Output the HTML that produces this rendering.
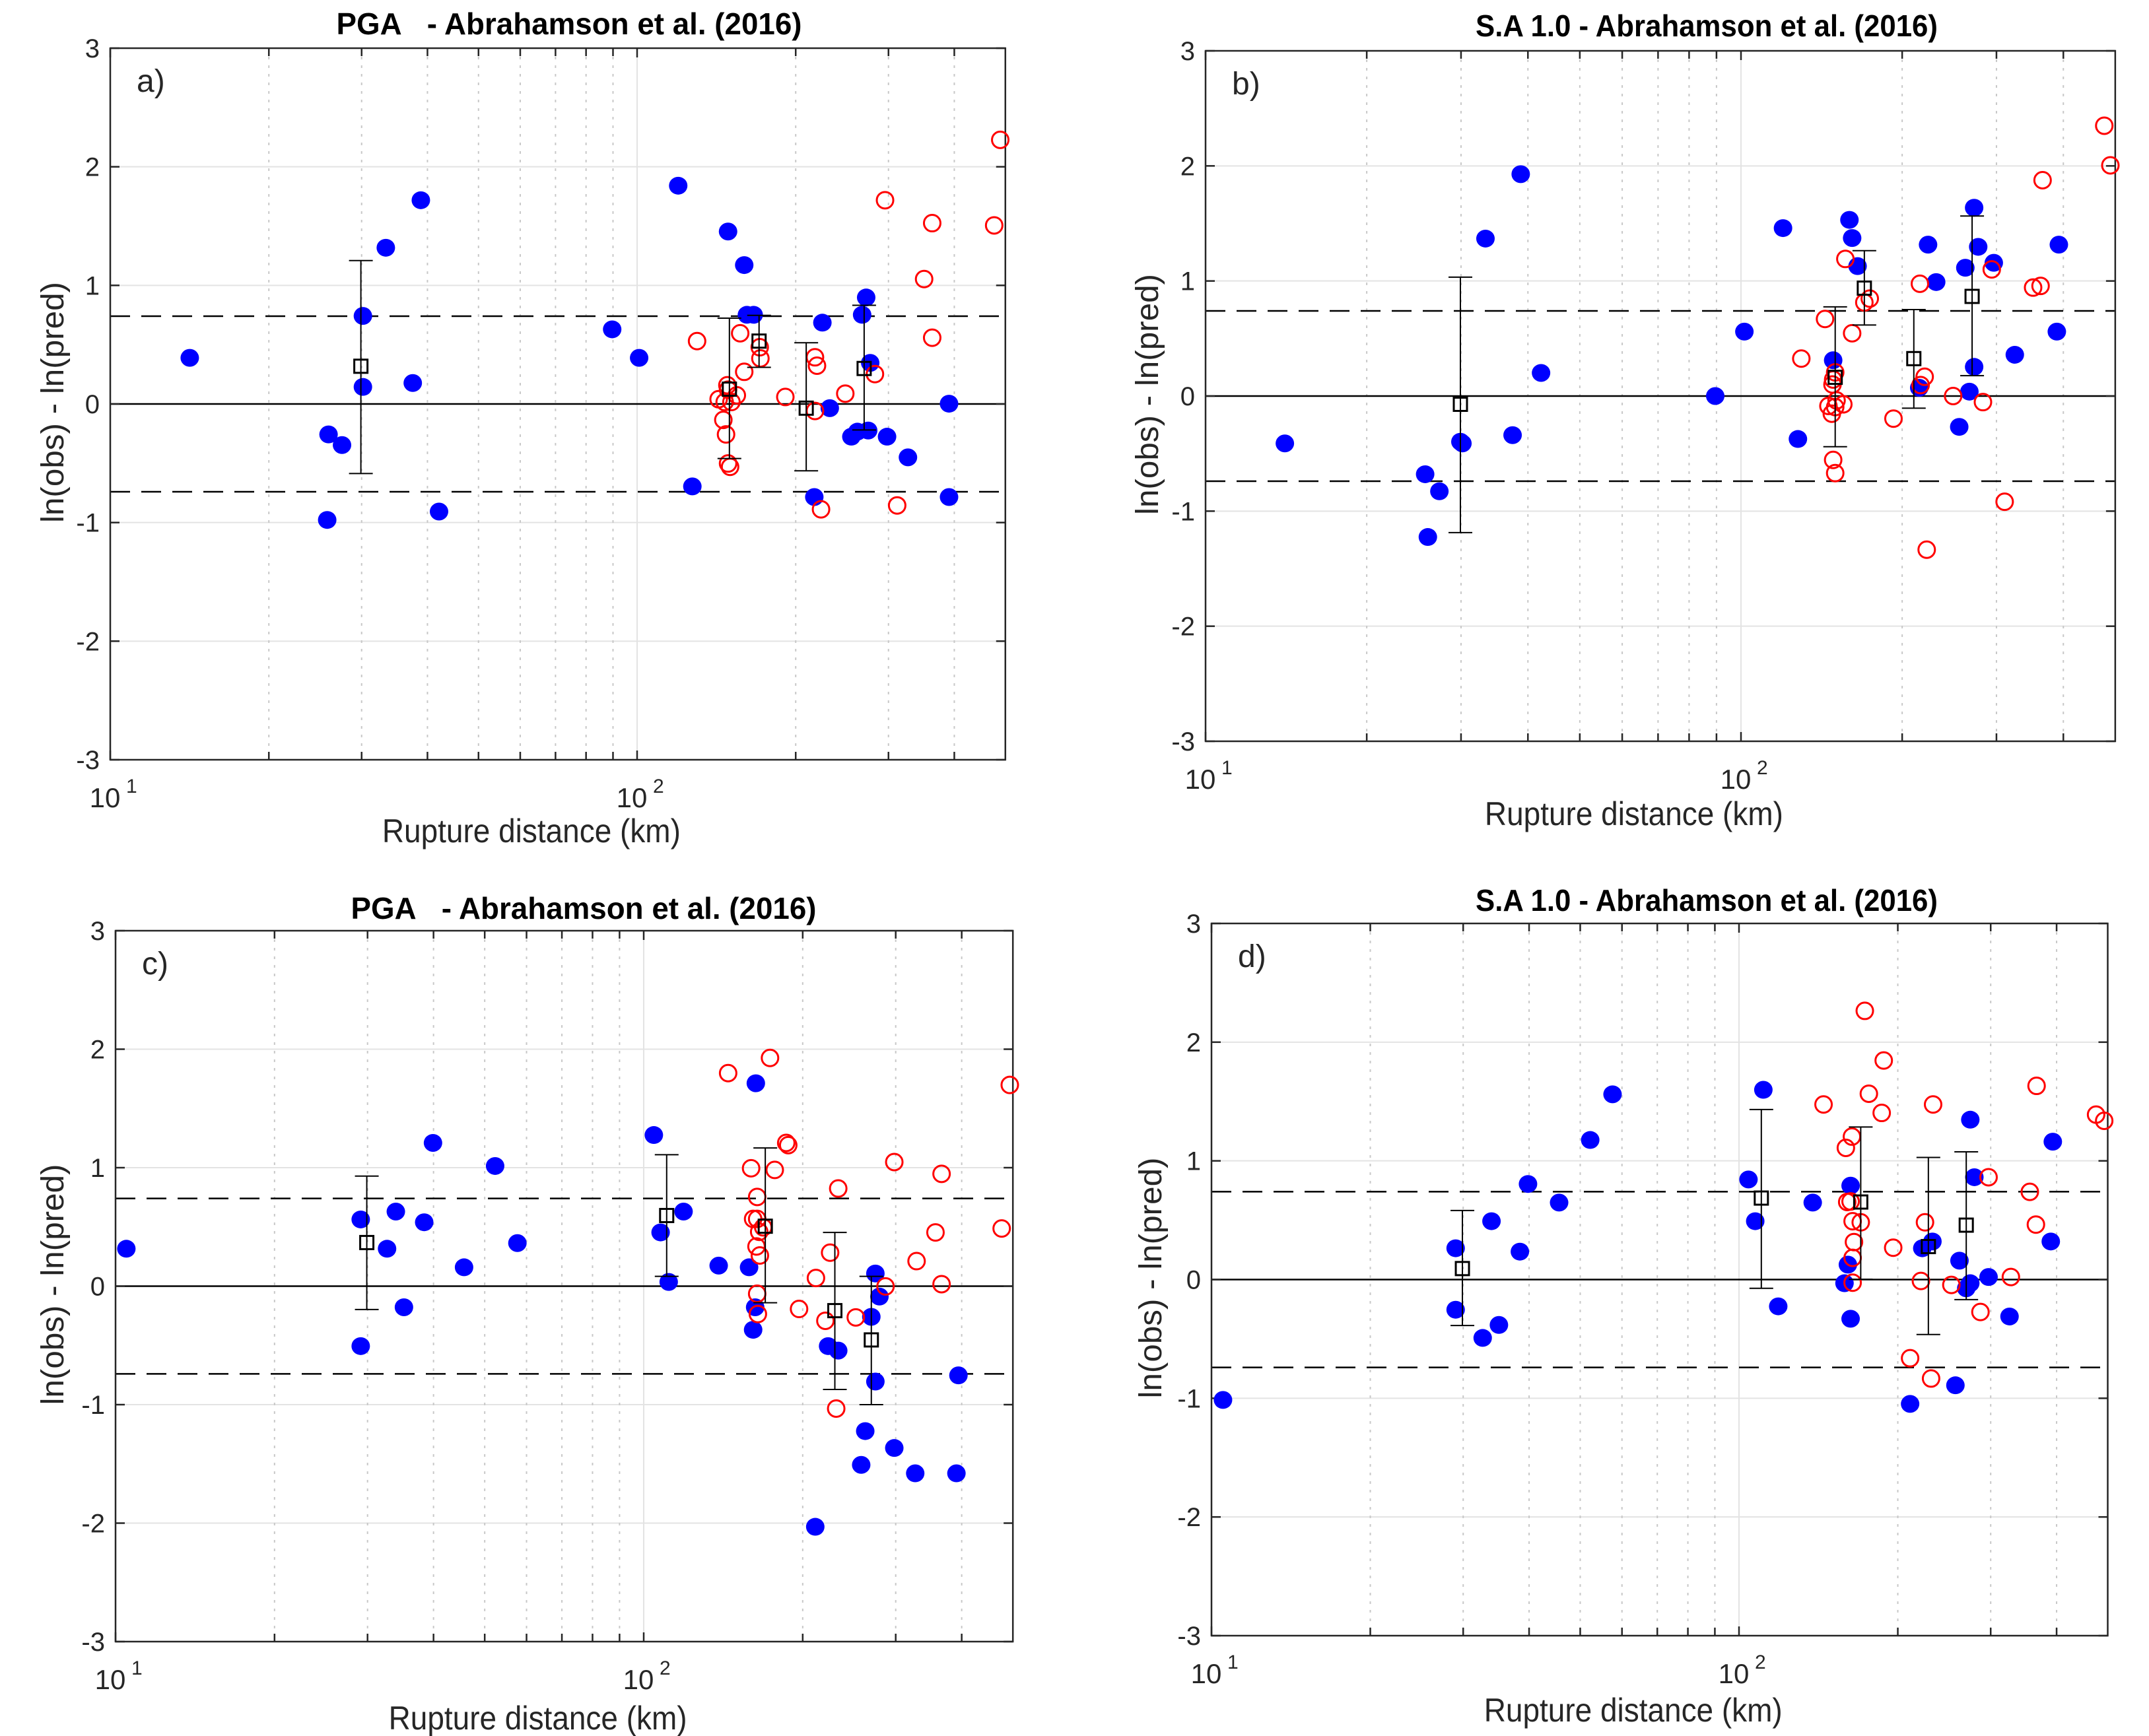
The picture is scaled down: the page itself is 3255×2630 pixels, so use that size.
<!DOCTYPE html>
<html><head><meta charset="utf-8">
<style>
html,body{margin:0;padding:0;background:#fff;}
svg{display:block;}
text{font-family:"Liberation Sans Narrow","Liberation Sans",sans-serif;fill:#262626;}
.t{font-weight:bold;fill:#000;}
</style></head>
<body>
<svg id="s" width="3255" height="2630" viewBox="0 0 3255 2630" xmlns="http://www.w3.org/2000/svg"></svg>
<script>
var S=document.getElementById('s');
var NS='http://www.w3.org/2000/svg';
function el(n,a,txt){var e=document.createElementNS(NS,n);for(var k in a)e.setAttribute(k,a[k]);if(txt!==undefined)e.textContent=txt;S.appendChild(e);return e;}
var panels=[
{L:167,D:798,T:73,B:1151,z:{L:163,D:782,y3:87,ym:1360},title:"PGA\u00a0\u00a0\u00a0- Abrahamson et al. (2016)",tx:862,ty:52,lab:"a)",ylx:80,xly:1276,
blue:[[281,641],[487,778],[507,797],[485,931],[538,566],[538,693],[572,444],[612,686],[624,359],[651,916],[908,590],[948,641],[1006,333],[1027,871],[1080,415],[1104,475],[1108,564],[1118,564],[1220,578],[1208,890],[1231,731],[1263,782],[1272,773],[1285,533],[1279,564],[1291,650],[1288,771],[1316,782],[1347,819],[1408,723],[1408,890]],
red:[[1034,611],[1098,597],[1079,690],[1080,698],[1066,715],[1075,720],[1085,720],[1093,708],[1073,752],[1077,778],[1080,830],[1083,836],[1104,666],[1127,622],[1128,642],[1165,711],[1209,640],[1212,655],[1209,736],[1218,912],[1254,705],[1298,670],[1313,359],[1331,905],[1371,500],[1383,400],[1383,605],[1475,404],[1484,251]],
sq:[[535,656,467,848],[1082,697,570,821],[1126,611,565,658],[1196,731,614,843],[1282,660,547,770]]},
{L:1826,D:811,T:77,B:1123,z:{L:171,D:790,y3:93,ym:1347},title:"S.A 1.0 - Abrahamson et al. (2016)",tx:2585,ty:55,lab:"b)",ylx:1738,xly:1250,
blue:[[288,806],[495,862],[516,893],[499,976],[547,803],[550,806],[584,434],[624,791],[636,317],[666,678],[923,720],[966,603],[1023,415],[1045,798],[1097,655],[1121,400],[1125,433],[1133,484],[1224,705],[1237,445],[1249,513],[1283,776],[1292,487],[1298,712],[1305,378],[1305,667],[1311,449],[1334,478],[1365,645],[1427,603],[1430,445]],
red:[[1050,652],[1085,580],[1100,677],[1097,690],[1096,699],[1102,728],[1090,738],[1095,752],[1100,740],[1112,735],[1097,836],[1100,860],[1115,471],[1125,606],[1143,550],[1151,543],[1186,761],[1225,516],[1226,700],[1232,685],[1235,999],[1274,720],[1318,731],[1331,490],[1350,912],[1392,523],[1403,520],[1406,328],[1497,229],[1506,301]],
sq:[[547,735,504,968],[1100,686,558,812],[1143,524,456,591],[1216,652,563,742],[1302,539,393,683]]},
{L:175,D:800,T:1410,B:2487,z:{L:171,D:782,y3:125,ym:1388},title:"PGA\u00a0\u00a0\u00a0- Abrahamson et al. (2016)",tx:884,ty:1392,lab:"c)",ylx:80,xly:2620,
blue:[[187,690],[534,638],[534,863],[573,690],[586,624],[598,794],[628,643],[641,502],[687,723],[733,543],[766,680],[968,488],[978,661],[990,749],[1012,624],[1064,720],[1109,723],[1115,834],[1118,794],[1119,396],[1207,1184],[1226,863],[1241,871],[1275,1074],[1281,1014],[1290,811],[1296,734],[1302,775],[1296,926],[1324,1044],[1355,1089],[1416,1089],[1419,915]],
red:[[1078,378],[1140,351],[1112,547],[1147,550],[1121,598],[1115,637],[1121,637],[1124,660],[1120,686],[1125,702],[1130,652],[1121,770],[1122,806],[1164,502],[1167,506],[1183,797],[1208,742],[1222,818],[1229,697],[1241,583],[1238,974],[1267,812],[1311,757],[1324,536],[1357,712],[1385,661],[1394,557],[1394,753],[1483,654],[1495,399]],
sq:[[543,679,561,798],[987,631,523,739],[1133,650,511,786],[1236,800,661,940],[1290,852,739,967]]},
{L:1835,D:799,T:1399,B:2478,z:{L:180,D:780,y3:113,ym:1376},title:"S.A 1.0 - Abrahamson et al. (2016)",tx:2585,ty:1380,lab:"d)",ylx:1743,xly:2608,
blue:[[197,958],[541,689],[541,798],[594,641],[581,848],[605,825],[636,695],[648,575],[694,608],[740,497],[773,416],[974,567],[984,641],[996,408],[1018,792],[1069,608],[1116,751],[1121,718],[1125,578],[1125,814],[1213,965],[1231,689],[1246,677],[1280,932],[1286,711],[1296,760],[1302,751],[1302,461],[1308,563],[1329,740],[1360,810],[1421,677],[1424,500]],
red:[[1085,434],[1118,511],[1127,491],[1146,268],[1152,415],[1171,449],[1174,356],[1120,607],[1125,606],[1128,641],[1130,678],[1128,706],[1128,750],[1140,643],[1188,688],[1213,884],[1229,747],[1235,643],[1244,920],[1247,434],[1274,754],[1317,802],[1329,563],[1362,740],[1390,589],[1399,647],[1400,401],[1488,452],[1500,463]],
sq:[[551,725,622,826],[993,600,443,760],[1140,607,474,744],[1240,686,528,842],[1296,648,518,780]]}
];
panels.forEach(function(p){
  var R=p.L+Math.log10(50)*p.D, H=p.B-p.T;
  function X(lx){return p.L+(lx-1)*p.D;}
  function Y(v){return p.T+(3-v)/6*H;}
  function zx(z){return X(1+(z-p.z.L)/p.z.D);}
  function zy(z){return Y(3-(z-p.z.y3)/(p.z.ym-p.z.y3)*6);}
  for(var v=-2;v<=2;v++){el('line',{x1:p.L,x2:R,y1:Y(v),y2:Y(v),stroke:'#e3e3e3','stroke-width':2});}
  el('line',{x1:X(2),x2:X(2),y1:p.T,y2:p.B,stroke:'#e3e3e3','stroke-width':2});
  [20,30,40,50,60,70,80,90,200,300,400].forEach(function(m){var x=X(Math.log10(m));
    el('line',{x1:x,x2:x,y1:p.T,y2:p.B,stroke:'#c8c8c8','stroke-width':2,'stroke-dasharray':'4,9'});});
  el('line',{x1:p.L,x2:R,y1:Y(0),y2:Y(0),stroke:'#000','stroke-width':2.5});
  [0.74,-0.74].forEach(function(v){el('line',{x1:p.L,x2:R,y1:Y(v),y2:Y(v),stroke:'#000','stroke-width':2.5,'stroke-dasharray':'30,17'});});
  el('rect',{x:p.L,y:p.T,width:R-p.L,height:H,fill:'none',stroke:'#262626','stroke-width':2.5});
  for(var v=-3;v<=3;v++){var y=Y(v);
    el('line',{x1:p.L,x2:p.L+14,y1:y,y2:y,stroke:'#262626','stroke-width':2.5});
    el('line',{x1:R-14,x2:R,y1:y,y2:y,stroke:'#262626','stroke-width':2.5});
    el('text',{x:p.L-16,y:y+14,'font-size':40,'text-anchor':'end'},String(v));}
  [10,20,30,40,50,60,70,80,90,100,200,300,400].forEach(function(m){var x=X(Math.log10(m));var l=(m==10||m==100)?14:12;
    el('line',{x1:x,x2:x,y1:p.B-l,y2:p.B,stroke:'#262626','stroke-width':2.5});
    el('line',{x1:x,x2:x,y1:p.T,y2:p.T+l,stroke:'#262626','stroke-width':2.5});});
  [[1,'1'],[2,'2']].forEach(function(a){var x=X(a[0]);
    el('text',{x:x-8,y:p.B+72,'font-size':42,'text-anchor':'middle'},'10');
    el('text',{x:x+24,y:p.B+50,'font-size':30,'text-anchor':'start'},a[1]);});
  var tw=(p.lab=='a)'||p.lab=='c)')?705:700;
  el('text',{x:p.tx-tw/2,y:p.ty,'font-size':46,'class':'t',textLength:tw,lengthAdjust:'spacingAndGlyphs'},p.title);
  el('text',{x:(p.L+R)/2-266,y:p.xly,'font-size':50,textLength:452,lengthAdjust:'spacingAndGlyphs'},'Rupture distance (km)');
  var yc=(p.T+p.B)/2;
  el('text',{x:p.ylx-180,y:yc,'font-size':48,transform:'rotate(-90 '+p.ylx+' '+yc+')',dy:'16',textLength:365,lengthAdjust:'spacingAndGlyphs'},'ln(obs) - ln(pred)');
  el('text',{x:p.L+40,y:p.T+66,'font-size':48},p.lab);
  p.blue.forEach(function(d){el('ellipse',{cx:zx(d[0]),cy:zy(d[1]),rx:14,ry:13.5,fill:'#0000ff'});});
  p.red.forEach(function(d){el('ellipse',{cx:zx(d[0]),cy:zy(d[1]),rx:12.5,ry:12.5,fill:'none',stroke:'#ff0000','stroke-width':3});});
  p.sq.forEach(function(d){var x=zx(d[0]),y=zy(d[1]),y1=zy(d[2]),y2=zy(d[3]);
    el('line',{x1:x,x2:x,y1:y1,y2:y2,stroke:'#000','stroke-width':2});
    el('line',{x1:x-18,x2:x+18,y1:y1,y2:y1,stroke:'#000','stroke-width':2});
    el('line',{x1:x-18,x2:x+18,y1:y2,y2:y2,stroke:'#000','stroke-width':2});
    el('rect',{x:x-10,y:y-10,width:20,height:20,fill:'none',stroke:'#000','stroke-width':3});});
});
</script>
</body></html>
